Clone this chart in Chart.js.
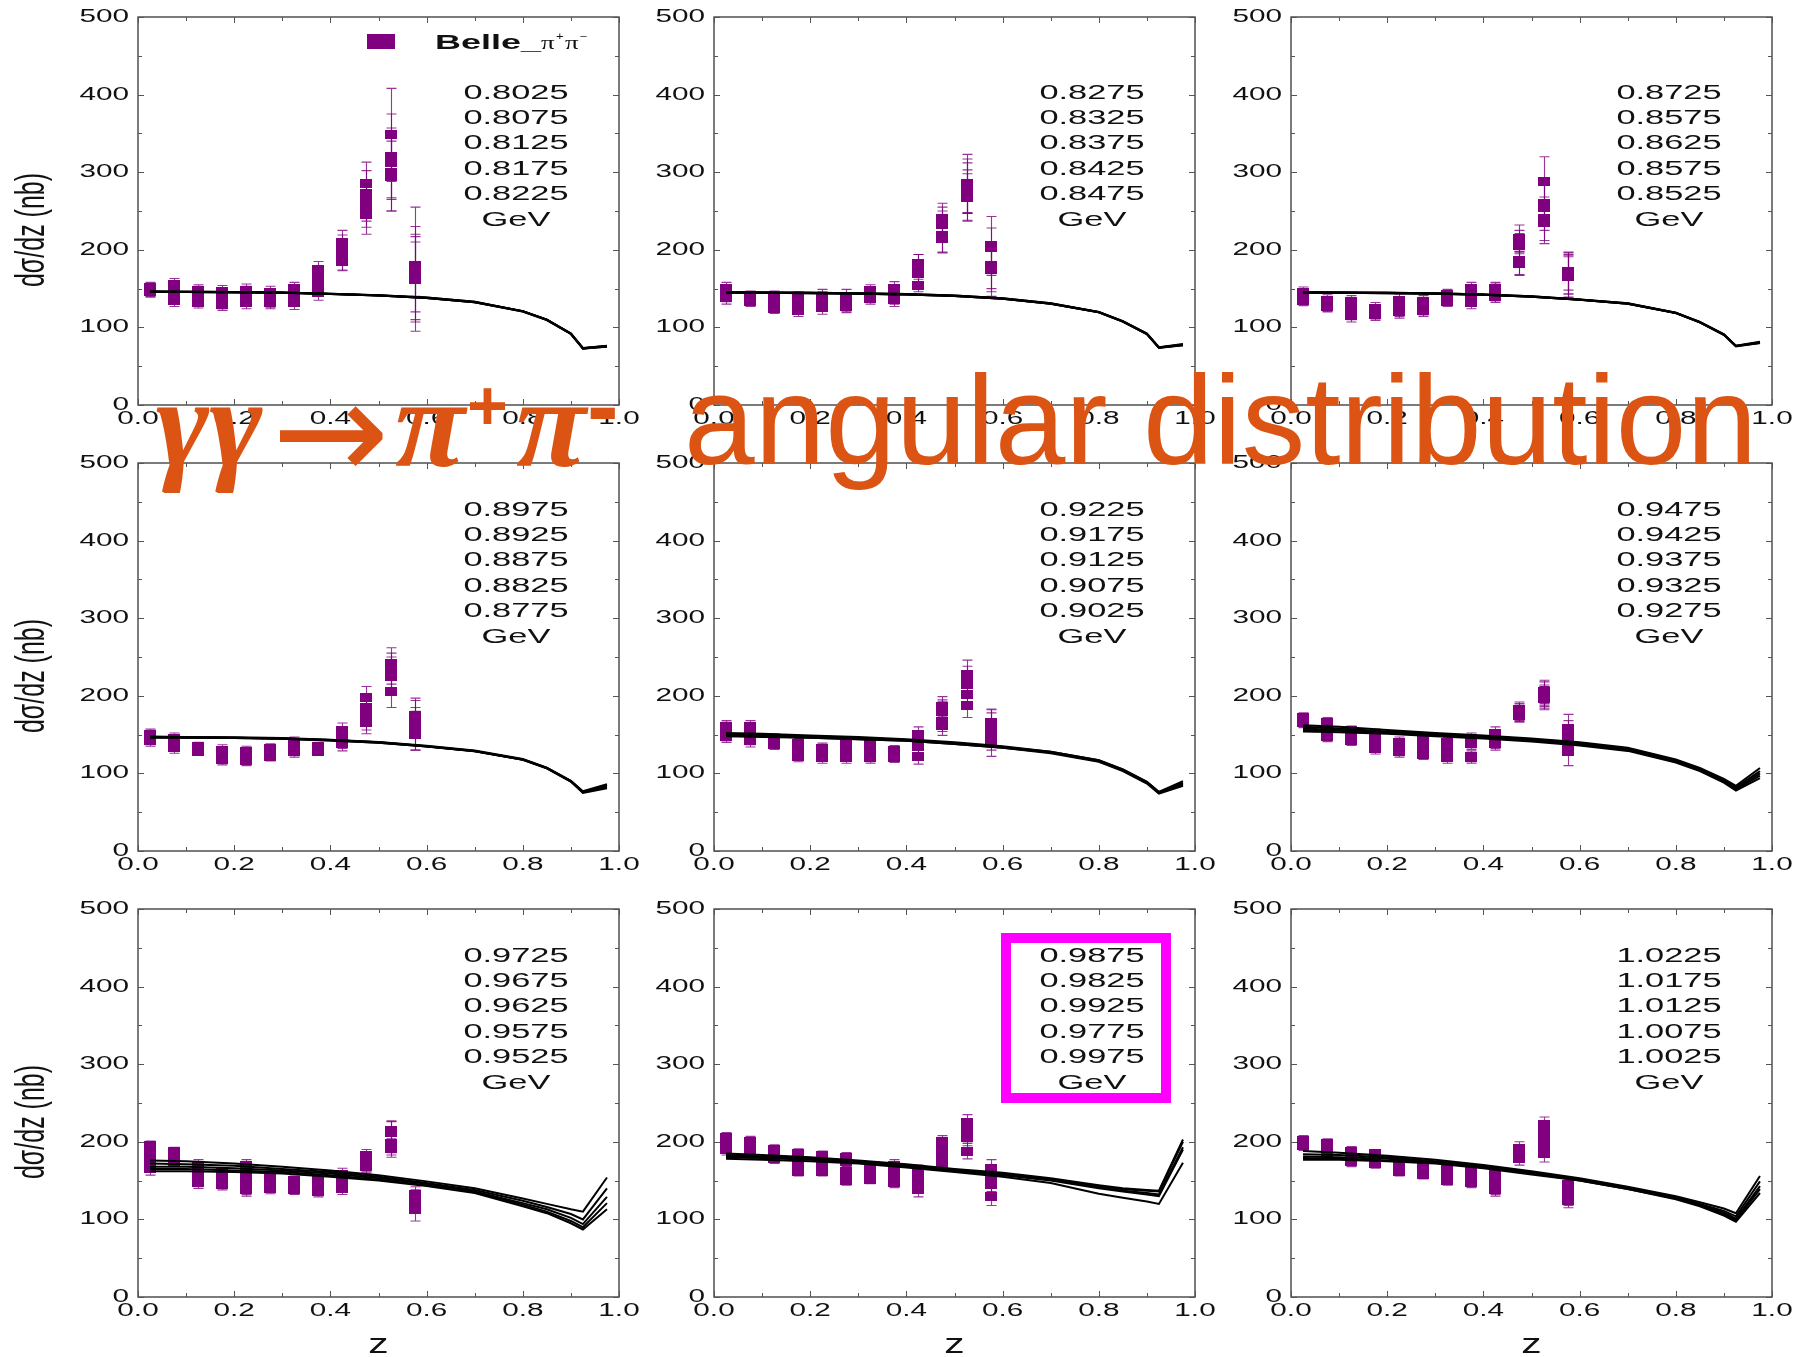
<!DOCTYPE html>
<html>
<head>
<meta charset="utf-8">
<script src="https://cdn.jsdelivr.net/npm/chart.js@4.4.1/dist/chart.umd.min.js"></script>
<style>
  body { margin: 0; background: #fff; width: 1796px; height: 1357px; position: relative; overflow: hidden; }
  canvas.panel { position: absolute; }
  .ttl { position: absolute; color: #dc5414; white-space: nowrap; line-height: 1; z-index: 5; }
  .serif { font-family: 'Liberation Serif', serif; font-weight: bold; font-style: italic; font-size: 128px; }
  .sup { font-family: 'Liberation Sans', sans-serif; font-weight: bold; font-size: 70px; }
</style>
</head>
<body>
<div id="panels"></div>
<span class="ttl serif" style="left:156px;top:359px;">γγ</span>
<span class="ttl" style="left:272px;top:362px;font-family:'DejaVu Sans',sans-serif;font-size:140px;">→</span>
<span class="ttl serif" style="left:395px;top:359px;">π</span>
<span class="ttl sup" style="left:467px;top:371px;">+</span>
<span class="ttl serif" style="left:516px;top:359px;">π</span>
<span class="ttl sup" style="left:587px;top:358px;font-size:95px;">-</span>
<span class="ttl" style="left:684px;top:357px;font-family:'Liberation Sans',sans-serif;font-size:127px;">angular distribution</span>

<script>
// z bins of the Belle points and the nodes of the model curves
const zBins = [0.025, 0.075, 0.125, 0.175, 0.225, 0.275, 0.325, 0.375, 0.425, 0.475, 0.525, 0.575];
const zCurve = [0.025, 0.1, 0.2, 0.3, 0.4, 0.5, 0.6, 0.7, 0.8, 0.85, 0.9, 0.925, 0.975];

const xMajorTicks = [0, 0.2, 0.4, 0.6, 0.8, 1.0];
const xTickLabels = ['0.0', '0.2', '0.4', '0.6', '0.8', '1.0'];
const xMinorTicks = [0.1, 0.3, 0.5, 0.7, 0.9];
const yMajorTicks = [0, 100, 200, 300, 400, 500];
const yTickLabels = ['0', '100', '200', '300', '400', '500'];
const yMinorTicks = [50, 150, 250, 350, 450];

// panel 1
const p1Energies = ['0.8025', '0.8075', '0.8125', '0.8175', '0.8225'];
const p1Y = [
  [148, 155, 148, 146, 148, 145, 150, 175, 210, 285, 348, 180],
  [150, 148, 140, 138, 140, 138, 142, 165, 205, 272, 320, 175],
  [147, 140, 135, 133, 135, 134, 136, 155, 188, 262, 312, 165],
  [152, 135, 132, 130, 132, 132, 132, 145, 185, 255, 300, 162],
  [146, 145, 145, 142, 145, 140, 146, 160, 195, 245, 295, 170]
];
const p1Err = [
  [6, 8, 7, 8, 8, 8, 8, 10, 15, 28, 60, 40],
  [6, 9, 8, 8, 8, 8, 8, 12, 14, 30, 55, 80],
  [7, 8, 8, 9, 8, 8, 8, 12, 14, 25, 45, 45],
  [6, 8, 7, 8, 8, 8, 9, 10, 12, 26, 50, 55],
  [7, 9, 8, 8, 8, 8, 8, 12, 14, 25, 45, 60]
];
const p1Curves = [
  [146, 146, 145.5, 145, 143.5, 141.5, 138.5, 133, 121, 110, 92, 73, 76],
  [146.5, 146, 145.5, 145, 143.5, 141.5, 138.5, 133, 121, 110, 92, 73.5, 76.5],
  [146, 145.5, 145, 144.5, 143, 141, 138, 132.5, 120.5, 109.5, 91.5, 73, 76],
  [145.5, 145.5, 145, 144.5, 143, 141, 138, 132.5, 120.5, 109.5, 91.5, 72.5, 75.5],
  [146, 146, 145.5, 144.5, 143, 141, 138, 132.5, 121, 110, 92, 73, 75]
];

// panel 2
const p2Energies = ['0.8275', '0.8325', '0.8375', '0.8425', '0.8475'];
const p2Y = [
  [145, 138, 135, 130, 140, 140, 148, 150, 182, 240, 285, 205],
  [140, 135, 128, 125, 132, 133, 140, 142, 176, 232, 280, 180],
  [150, 140, 125, 122, 126, 127, 137, 136, 154, 218, 268, 175],
  [138, 133, 140, 138, 137, 135, 143, 145, 180, 236, 282, 203],
  [142, 136, 130, 128, 130, 130, 145, 138, 170, 215, 270, 178]
];
const p2Err = [
  [8, 6, 7, 8, 9, 9, 7, 9, 12, 20, 38, 38],
  [7, 6, 7, 8, 8, 9, 7, 9, 10, 18, 32, 30],
  [8, 7, 7, 8, 9, 8, 7, 9, 8, 22, 30, 35],
  [8, 6, 7, 8, 9, 9, 7, 9, 14, 19, 35, 25],
  [7, 6, 6, 8, 8, 9, 7, 8, 11, 18, 33, 32]
];
const p2Curves = [
  [145.5, 145, 144.5, 144, 143, 141, 137.5, 131, 120, 108, 92, 74.5, 78.5],
  [145, 145, 144.5, 144, 143, 141, 137.5, 131, 120, 108, 92, 74, 78],
  [145, 144.5, 144, 143.5, 142.5, 140.5, 137, 130.5, 119.5, 107.5, 91.5, 74, 77.5],
  [144.5, 144.5, 144, 143.5, 142.5, 140.5, 137, 130.5, 119.5, 107.5, 91.5, 73.5, 77],
  [145, 145, 144.5, 143.5, 142.5, 140.5, 137, 130.5, 119.5, 107.5, 91.5, 74, 77]
];

// panel 3
const p3Energies = ['0.8725', '0.8575', '0.8625', '0.8575', '0.8525'];
const p3Y = [
  [145, 135, 133, 125, 135, 133, 142, 150, 150, 215, 288, 168],
  [138, 130, 128, 120, 128, 126, 138, 145, 145, 210, 260, 170],
  [135, 127, 118, 118, 122, 122, 134, 132, 140, 186, 240, 165],
  [142, 132, 115, 116, 120, 124, 136, 140, 142, 205, 255, 172],
  [140, 128, 120, 122, 130, 128, 140, 135, 148, 182, 235, 166]
];
const p3Err = [
  [7, 7, 8, 7, 8, 8, 7, 8, 8, 17, 32, 25],
  [7, 7, 8, 7, 8, 8, 7, 8, 8, 15, 30, 27],
  [7, 7, 8, 7, 8, 8, 7, 8, 8, 18, 28, 26],
  [7, 7, 8, 7, 8, 8, 7, 8, 8, 16, 30, 24],
  [7, 7, 8, 7, 8, 8, 7, 8, 8, 15, 27, 28]
];
const p3Curves = [
  [145.5, 145, 144.5, 144, 142.5, 140, 136, 131, 119, 107, 91, 76.5, 81.5],
  [145, 145, 144.5, 144, 142.5, 140, 136, 131, 119, 107, 91, 76, 81],
  [145, 144.5, 144, 143.5, 142, 139.5, 135.5, 130.5, 118.5, 106.5, 90.5, 76, 80.5],
  [144.5, 144.5, 144, 143.5, 142, 139.5, 135.5, 130.5, 118.5, 106.5, 90.5, 75.5, 80],
  [145, 145, 144.5, 143.5, 142, 139.5, 135.5, 130.5, 118.5, 106.5, 90.5, 76, 80]
];

// panel 4
const p4Energies = ['0.8975', '0.8925', '0.8875', '0.8825', '0.8775'];
const p4Y = [
  [148, 140, 135, 130, 128, 132, 140, 133, 155, 198, 242, 175],
  [145, 136, 130, 122, 120, 125, 135, 130, 145, 185, 228, 165],
  [142, 133, 128, 118, 117, 122, 130, 128, 140, 170, 205, 155],
  [150, 145, 133, 125, 125, 130, 138, 135, 138, 165, 225, 150],
  [144, 138, 131, 120, 122, 128, 128, 131, 150, 180, 235, 170]
];
const p4Err = [
  [7, 7, 5, 7, 7, 6, 7, 5, 10, 14, 20, 22],
  [7, 7, 5, 7, 7, 6, 7, 5, 9, 14, 22, 20],
  [7, 7, 5, 7, 7, 6, 7, 5, 8, 14, 20, 25],
  [7, 7, 5, 7, 7, 6, 7, 5, 9, 14, 18, 20],
  [7, 7, 5, 7, 7, 6, 7, 5, 9, 14, 20, 24]
];
const p4Curves = [
  [147.5, 147, 146.5, 145.5, 143.5, 140.5, 135.5, 129.5, 118.5, 107.5, 90.5, 77, 86],
  [147, 146.5, 146, 145, 143, 140, 135, 129, 118, 107, 90, 76, 85],
  [147, 146.5, 146, 145, 143, 140, 135, 129, 118, 107, 90, 76, 83],
  [146.5, 146, 145.5, 144.5, 142.5, 139.5, 134.5, 128.5, 117.5, 106.5, 89.5, 75.5, 82],
  [146, 146, 145.5, 144.5, 142.5, 139.5, 134.5, 128.5, 117.5, 106.5, 89.5, 75, 81]
];

// panel 5
const p5Energies = ['0.9225', '0.9175', '0.9125', '0.9075', '0.9025'];
const p5Y = [
  [160, 160, 145, 138, 132, 138, 138, 130, 150, 186, 228, 165],
  [155, 152, 140, 130, 128, 130, 132, 125, 142, 182, 220, 158],
  [150, 145, 137, 122, 120, 120, 122, 120, 135, 167, 202, 140],
  [158, 155, 142, 125, 125, 125, 120, 122, 122, 162, 188, 150],
  [148, 142, 138, 133, 130, 135, 135, 128, 145, 180, 215, 160]
];
const p5Err = [
  [8, 8, 6, 7, 7, 7, 7, 6, 10, 13, 18, 18],
  [8, 8, 6, 7, 7, 7, 7, 6, 10, 13, 18, 20],
  [8, 8, 6, 7, 7, 7, 7, 6, 10, 13, 18, 18],
  [8, 8, 6, 7, 7, 7, 7, 6, 10, 13, 16, 20],
  [8, 8, 6, 7, 7, 7, 7, 6, 10, 13, 17, 22]
];
const p5Curves = [
  [152, 151, 149, 147, 144, 140, 135, 128, 117, 105, 89, 76, 90],
  [151, 150, 148, 146, 143, 139, 134, 128, 117, 105, 89, 76, 88],
  [150, 149, 147, 145, 143, 139, 134, 127, 116, 104, 88, 75, 87],
  [149, 148, 146, 144, 142, 138, 133, 127, 116, 104, 88, 75, 85],
  [148, 147, 146, 144, 142, 138, 133, 126, 115, 103, 87, 74, 84]
];

// panel 6
const p6Energies = ['0.9475', '0.9425', '0.9375', '0.9325', '0.9275'];
const p6Y = [
  [172, 165, 155, 150, 140, 142, 140, 145, 152, 180, 205, 158],
  [168, 160, 148, 140, 133, 135, 135, 138, 145, 178, 200, 150],
  [170, 152, 142, 132, 128, 125, 120, 122, 138, 176, 197, 140],
  [165, 148, 145, 135, 135, 130, 130, 120, 140, 182, 203, 128],
  [170, 158, 150, 145, 130, 138, 125, 140, 148, 175, 198, 145]
];
const p6Err = [
  [6, 7, 6, 7, 7, 7, 7, 7, 8, 10, 15, 18],
  [6, 7, 6, 7, 7, 7, 7, 7, 8, 10, 14, 18],
  [6, 7, 6, 7, 7, 7, 7, 7, 8, 9, 15, 17],
  [6, 7, 6, 7, 7, 7, 7, 7, 8, 10, 15, 18],
  [6, 7, 6, 7, 7, 7, 7, 7, 8, 9, 14, 17]
];
const p6Curves = [
  [162, 160, 156, 152, 149, 145, 140, 133, 118, 107, 93, 84, 107],
  [160, 158, 154, 151, 148, 144, 139, 132, 117, 106, 91, 82, 103],
  [158, 156, 153, 150, 147, 143, 138, 131, 116, 105, 90, 80, 100],
  [156, 155, 152, 149, 146, 142, 137, 130, 115, 104, 89, 79, 97],
  [154, 153, 151, 148, 145, 141, 136, 129, 114, 103, 88, 78, 94]
];

// panel 7
const p7Energies = ['0.9725', '0.9675', '0.9625', '0.9575', '0.9525'];
const p7Y = [
  [195, 188, 170, 160, 170, 155, 150, 150, 158, 182, 215, 132],
  [185, 184, 160, 152, 160, 148, 145, 142, 150, 175, 212, 128],
  [178, 178, 152, 145, 150, 140, 138, 136, 140, 168, 195, 120],
  [172, 180, 148, 150, 140, 145, 140, 140, 145, 170, 192, 113],
  [165, 175, 165, 155, 138, 150, 148, 145, 155, 178, 198, 125]
];
const p7Err = [
  [6, 5, 7, 6, 7, 6, 6, 6, 8, 8, 12, 10],
  [7, 6, 7, 6, 7, 7, 6, 6, 8, 8, 14, 10],
  [7, 6, 8, 7, 8, 7, 6, 7, 8, 8, 12, 12],
  [8, 6, 8, 7, 8, 7, 7, 7, 9, 8, 12, 15],
  [8, 6, 8, 7, 8, 7, 7, 7, 8, 8, 12, 12]
];
const p7Curves = [
  [176, 175, 172, 168, 163, 157, 149, 140, 127, 120, 113, 110, 154],
  [172, 171, 169, 165, 161, 155, 147, 138, 124, 116, 107, 100, 140],
  [168, 168, 166, 163, 159, 153, 146, 136, 121, 113, 102, 94, 129],
  [165, 165, 163, 161, 157, 151, 144, 135, 119, 110, 98, 90, 121],
  [162, 162, 161, 159, 155, 150, 143, 134, 117, 108, 95, 87, 113]
];

// panel 8
const p8Energies = ['0.9875', '0.9825', '0.9925', '0.9775', '0.9975'];
const p8Y = [
  [205, 200, 190, 185, 182, 180, 165, 170, 162, 200, 225, 165],
  [200, 195, 185, 178, 175, 175, 160, 160, 155, 195, 218, 155],
  [195, 188, 180, 170, 168, 162, 155, 150, 148, 185, 205, 148],
  [190, 192, 178, 162, 162, 150, 152, 155, 138, 178, 188, 130],
  [198, 186, 186, 175, 178, 155, 158, 148, 150, 172, 210, 145]
];
const p8Err = [
  [7, 7, 6, 6, 6, 6, 6, 7, 8, 8, 10, 12],
  [7, 7, 6, 6, 6, 6, 6, 7, 8, 8, 10, 12],
  [7, 7, 6, 6, 6, 6, 6, 7, 8, 8, 10, 12],
  [7, 7, 6, 6, 6, 6, 6, 7, 9, 8, 10, 12],
  [7, 7, 6, 6, 6, 6, 6, 7, 8, 8, 10, 12]
];
const p8Curves = [
  [185, 183, 180, 176, 171, 165, 160, 153, 144, 140, 138, 137, 203],
  [183, 181, 179, 175, 170, 164, 159, 152, 143, 139, 137, 136, 200],
  [181, 180, 178, 174, 169, 163, 158, 151, 141, 137, 134, 132, 193],
  [180, 179, 177, 173, 168, 162, 157, 150, 140, 136, 132, 130, 190],
  [178, 177, 175, 172, 167, 161, 155, 147, 133, 128, 123, 120, 173]
];

// panel 9
const p9Energies = ['1.0225', '1.0175', '1.0125', '1.0075', '1.0025'];
const p9Y = [
  [202, 198, 188, 185, 175, 170, 165, 163, 158, 192, 222, 145],
  [198, 192, 182, 180, 170, 165, 160, 155, 152, 188, 212, 140],
  [195, 188, 176, 175, 165, 160, 152, 150, 145, 182, 200, 132],
  [200, 195, 180, 172, 168, 158, 155, 148, 138, 178, 190, 128],
  [196, 186, 174, 178, 162, 163, 150, 158, 140, 185, 185, 125]
];
const p9Err = [
  [6, 6, 6, 5, 5, 5, 5, 6, 7, 8, 10, 8],
  [6, 7, 6, 6, 6, 6, 6, 7, 7, 8, 10, 8],
  [6, 7, 6, 6, 6, 6, 6, 7, 8, 8, 10, 9],
  [6, 7, 6, 6, 6, 6, 6, 7, 8, 8, 10, 10],
  [6, 7, 6, 6, 6, 6, 6, 7, 8, 8, 11, 10]
];
const p9Curves = [
  [188, 186, 182, 177, 170, 162, 153, 142, 130, 122, 114, 108, 156],
  [184, 183, 180, 175, 169, 161, 152, 141, 129, 120, 111, 104, 149],
  [181, 180, 178, 174, 168, 160, 151, 140, 128, 119, 109, 101, 143],
  [179, 178, 176, 173, 167, 159, 150, 139, 127, 118, 107, 99, 139],
  [177, 177, 175, 172, 166, 158, 150, 139, 126, 117, 105, 97, 134]
];

const panels = [
  { energies: p1Energies, y: p1Y, err: p1Err, curves: p1Curves, row: 0, col: 0, legend: true },
  { energies: p2Energies, y: p2Y, err: p2Err, curves: p2Curves, row: 0, col: 1 },
  { energies: p3Energies, y: p3Y, err: p3Err, curves: p3Curves, row: 0, col: 2 },
  { energies: p4Energies, y: p4Y, err: p4Err, curves: p4Curves, row: 1, col: 0 },
  { energies: p5Energies, y: p5Y, err: p5Err, curves: p5Curves, row: 1, col: 1 },
  { energies: p6Energies, y: p6Y, err: p6Err, curves: p6Curves, row: 1, col: 2 },
  { energies: p7Energies, y: p7Y, err: p7Err, curves: p7Curves, row: 2, col: 0 },
  { energies: p8Energies, y: p8Y, err: p8Err, curves: p8Curves, row: 2, col: 1, box: true },
  { energies: p9Energies, y: p9Y, err: p9Err, curves: p9Curves, row: 2, col: 2 }
];

// layout of the 3x3 grid (plot areas)
const colLeft = [138, 714, 1291];
const rowTop = [17, 463, 909];
const plotW = 481, plotH = 388;
const padL = 138, padT = 17, padR = 24, padB = 60;

const PURPLE = '#800080';
const SANS = "'Liberation Sans', Arial, sans-serif";

// marker: a flat purple rectangle
const marker = document.createElement('canvas');
marker.width = 12; marker.height = 9;
const mctx = marker.getContext('2d');
mctx.fillStyle = PURPLE;
mctx.fillRect(0, 0, 12, 9);

// text stretched horizontally like in the original figure
function wideText(ctx, text, x, y, font, sx, align, base) {
    ctx.save();
    ctx.translate(x, y);
    ctx.scale(sx, 1);
    ctx.font = font;
    ctx.textAlign = align || 'center';
    ctx.textBaseline = base || 'middle';
    ctx.fillStyle = '#111';
    ctx.fillText(text, 0, 0);
    ctx.restore();
}

function makeDecor(panel) {
    return {
        id: 'decor',
        beforeDatasetsDraw(chart) {
            const { ctx } = chart;
            const xs = chart.scales.x, ys = chart.scales.y;
            ctx.save();
            ctx.strokeStyle = 'rgba(128,0,128,0.8)';
            ctx.lineWidth = 1.1;
            chart.data.datasets.forEach(ds => {
                if (!ds.errors) return;
                ds.data.forEach((p, i) => {
                    const px = Math.round(xs.getPixelForValue(p.x)) + 0.5;
                    const y1 = ys.getPixelForValue(p.y + ds.errors[i]);
                    const y2 = ys.getPixelForValue(p.y - ds.errors[i]);
                    ctx.beginPath();
                    ctx.moveTo(px, y1); ctx.lineTo(px, y2);
                    ctx.moveTo(px - 5, y1); ctx.lineTo(px + 5, y1);
                    ctx.moveTo(px - 5, y2); ctx.lineTo(px + 5, y2);
                    ctx.stroke();
                });
            });
            ctx.restore();
        },
        afterDraw(chart) {
            const { ctx, chartArea: a } = chart;
            const xs = chart.scales.x, ys = chart.scales.y;
            ctx.save();
            // frame
            ctx.strokeStyle = '#444';
            ctx.lineWidth = 1.4;
            ctx.strokeRect(a.left, a.top, a.right - a.left, a.bottom - a.top);
            // inward ticks on all four sides
            ctx.strokeStyle = '#555';
            ctx.lineWidth = 1;
            ctx.beginPath();
            const xt = (v, len) => {
                const px = Math.round(xs.getPixelForValue(v)) + 0.5;
                ctx.moveTo(px, a.bottom); ctx.lineTo(px, a.bottom - len);
                ctx.moveTo(px, a.top); ctx.lineTo(px, a.top + len);
            };
            const yt = (v, len) => {
                const py = Math.round(ys.getPixelForValue(v)) + 0.5;
                ctx.moveTo(a.left, py); ctx.lineTo(a.left + len, py);
                ctx.moveTo(a.right, py); ctx.lineTo(a.right - len, py);
            };
            xMajorTicks.forEach(v => xt(v, 6));
            xMinorTicks.forEach(v => xt(v, 4));
            yMajorTicks.forEach(v => yt(v, 6));
            yMinorTicks.forEach(v => yt(v, 4));
            ctx.stroke();
            ctx.restore();

            // tick labels
            xMajorTicks.forEach((v, i) => {
                wideText(ctx, xTickLabels[i], xs.getPixelForValue(v), a.bottom + 14, '18px ' + SANS, 1.65, 'center');
            });
            yMajorTicks.forEach((v, i) => {
                wideText(ctx, yTickLabels[i], a.left - 9, ys.getPixelForValue(v), '18px ' + SANS, 1.65, 'right');
            });

            // energy list
            const lines = panel.energies.concat(['GeV']);
            const firstY = a.top + (panel.row === 0 ? 76 : 47);
            lines.forEach((t, i) => {
                wideText(ctx, t, a.left + 378, firstY + i * 25.4, '20px ' + SANS, 1.72, 'center');
            });

            // axis titles
            if (panel.col === 0) {
                ctx.save();
                ctx.translate(33, (a.top + a.bottom) / 2 + 19);
                ctx.scale(1.6, 1);
                ctx.rotate(-Math.PI / 2);
                ctx.font = '25px ' + SANS;
                ctx.textAlign = 'center';
                ctx.textBaseline = 'middle';
                ctx.fillStyle = '#111';
                ctx.fillText('dσ/dz (nb)', 0, 0);
                ctx.restore();
            }
            if (panel.row === 2) {
                wideText(ctx, 'z', (a.left + a.right) / 2, a.bottom + 48, '28px ' + SANS, 1.45, 'center');
            }

            // legend
            if (panel.legend) {
                ctx.save();
                ctx.fillStyle = PURPLE;
                ctx.fillRect(a.left + 229, a.top + 17, 28, 15);
                ctx.restore();
                const lx = a.left + 297, ly = a.top + 32;
                wideText(ctx, 'Belle_', lx, ly, 'bold 20px ' + SANS, 1.8, 'left', 'alphabetic');
                ctx.save();
                ctx.font = 'bold 20px ' + SANS;
                let cx = lx + ctx.measureText('Belle_').width * 1.8;
                ctx.restore();
                const serif = "'Liberation Serif', serif";
                wideText(ctx, 'π', cx, ly, '18px ' + serif, 1.5, 'left', 'alphabetic');
                cx += 15;
                wideText(ctx, '+', cx, ly - 9, '10px ' + SANS, 1.3, 'left', 'alphabetic');
                cx += 9;
                wideText(ctx, 'π', cx, ly, '18px ' + serif, 1.5, 'left', 'alphabetic');
                cx += 15;
                wideText(ctx, '−', cx, ly - 9, '10px ' + SANS, 1.3, 'left', 'alphabetic');
            }

            // highlight box
            if (panel.box) {
                ctx.save();
                ctx.strokeStyle = '#ff00ff';
                ctx.lineWidth = 10;
                ctx.strokeRect(a.left + 292, a.top + 29, 160, 160);
                ctx.restore();
            }
        }
    };
}

const holder = document.getElementById('panels');

panels.forEach(panel => {
    const cv = document.createElement('canvas');
    cv.className = 'panel';
    const w = padL + plotW + padR, h = padT + plotH + padB;
    cv.width = w; cv.height = h;
    cv.style.width = w + 'px';
    cv.style.height = h + 'px';
    cv.style.left = (colLeft[panel.col] - padL) + 'px';
    cv.style.top = (rowTop[panel.row] - padT) + 'px';
    holder.appendChild(cv);

    const datasets = [];
    panel.curves.forEach(c => {
        datasets.push({
            type: 'line',
            data: zCurve.map((z, i) => ({ x: z, y: c[i] })),
            borderColor: '#000',
            borderWidth: 2,
            pointRadius: 0,
            tension: 0,
            fill: false,
            order: 0
        });
    });
    panel.y.forEach((row, k) => {
        datasets.push({
            type: 'scatter',
            data: zBins.map((z, i) => ({ x: z, y: row[i] })),
            errors: panel.err[k],
            pointStyle: marker,
            pointRadius: 6,
            order: 1
        });
    });

    new Chart(cv.getContext('2d'), {
        type: 'scatter',
        data: { datasets: datasets },
        options: {
            responsive: false,
            animation: false,
            devicePixelRatio: 1,
            events: [],
            layout: { padding: { left: padL, top: padT, right: padR, bottom: padB } },
            plugins: { legend: { display: false }, tooltip: { enabled: false } },
            scales: {
                x: { type: 'linear', min: 0, max: 1, display: false },
                y: { type: 'linear', min: 0, max: 500, display: false }
            }
        },
        plugins: [makeDecor(panel)]
    });
});
</script>
</body>
</html>
